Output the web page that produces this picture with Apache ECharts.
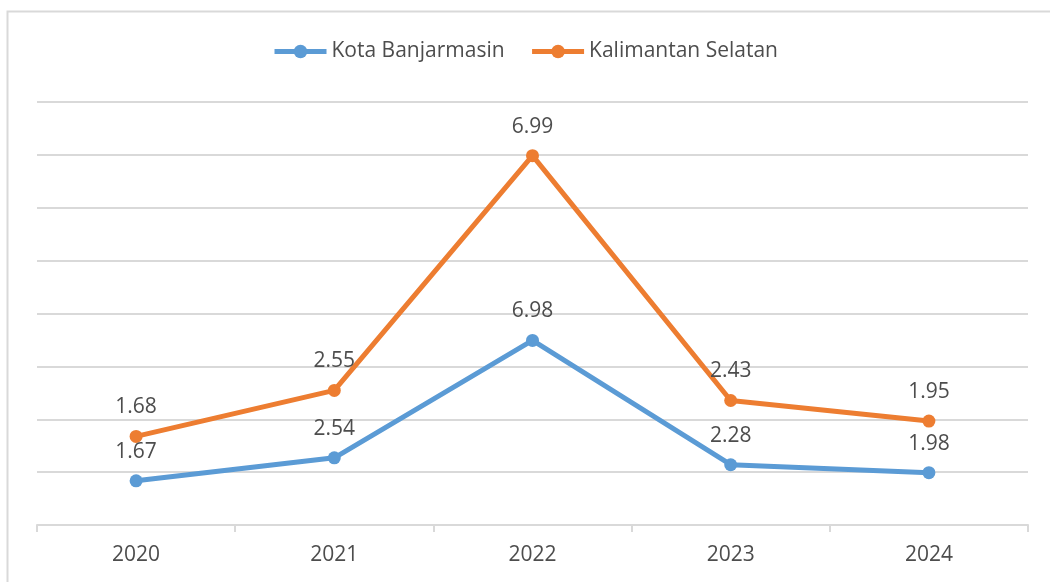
<!DOCTYPE html>
<html lang="id">
<head>
    <meta charset="UTF-8">
    <title>Kota Banjarmasin vs Kalimantan Selatan</title>
    <script src="https://cdn.jsdelivr.net/npm/echarts@6/dist/echarts.min.js"></script>
    <style>
        html, body { margin: 0; padding: 0; background: #fff; }
        #chart { width: 1050px; height: 582px; }
    </style>
</head>
<body>
<div id="chart"></div>
<script>
    // data (series are stacked)
    const years = ['2020', '2021', '2022', '2023', '2024'];
    const kotaBanjarmasin = [1.67, 2.54, 6.98, 2.28, 1.98];
    const kalimantanSelatan = [1.68, 2.55, 6.99, 2.43, 1.95];

    const textColor = '#4d4d4d';
    const gridColor = '#d9d9d9';
    const fontFamily = "'Open Sans', 'Liberation Sans', sans-serif";

    let myChart = echarts.init(document.getElementById('chart'));

    function lineSeries(name, data, color) {
        return {
            name: name,
            type: 'line',
            stack: 'total',
            data: data,
            symbol: 'circle',
            symbolSize: 13,
            lineStyle: { width: 5, color: color },
            itemStyle: { color: color },
            label: {
                show: true,
                position: 'top',
                distance: 12,
                color: textColor,
                fontSize: 21,
                fontFamily: fontFamily
            }
        };
    }

    let option = {
        animation: false,
        graphic: [{
            type: 'rect',
            shape: { x: 7.5, y: 11.5, width: 1100, height: 620 },
            style: { fill: 'none', stroke: gridColor, lineWidth: 2 },
            silent: true
        }],
        legend: {
            top: 36,
            left: 'center',
            itemWidth: 52,
            itemHeight: 17,
            itemGap: 25,
            lineStyle: { width: 5 },
            textStyle: { color: textColor, fontSize: 21, fontFamily: fontFamily },
            data: ['Kota Banjarmasin', 'Kalimantan Selatan']
        },
        grid: { left: 37, right: 22, top: 102, bottom: 57, containLabel: false },
        xAxis: {
            type: 'category',
            data: years,
            boundaryGap: true,
            axisLine: { lineStyle: { color: gridColor, width: 2 } },
            axisTick: { show: true, length: 7, lineStyle: { color: gridColor, width: 2 } },
            axisLabel: { color: textColor, fontSize: 21, fontFamily: fontFamily, margin: 20 }
        },
        yAxis: {
            type: 'value',
            min: 0,
            max: 16,
            interval: 2,
            axisLabel: { show: false },
            axisLine: { show: false },
            axisTick: { show: false },
            splitLine: { lineStyle: { color: gridColor, width: 2 } }
        },
        series: [
            lineSeries('Kota Banjarmasin', kotaBanjarmasin, '#5b9bd5'),
            lineSeries('Kalimantan Selatan', kalimantanSelatan, '#ed7d31')
        ]
    };

    myChart.setOption(option);
</script>
</body>
</html>
